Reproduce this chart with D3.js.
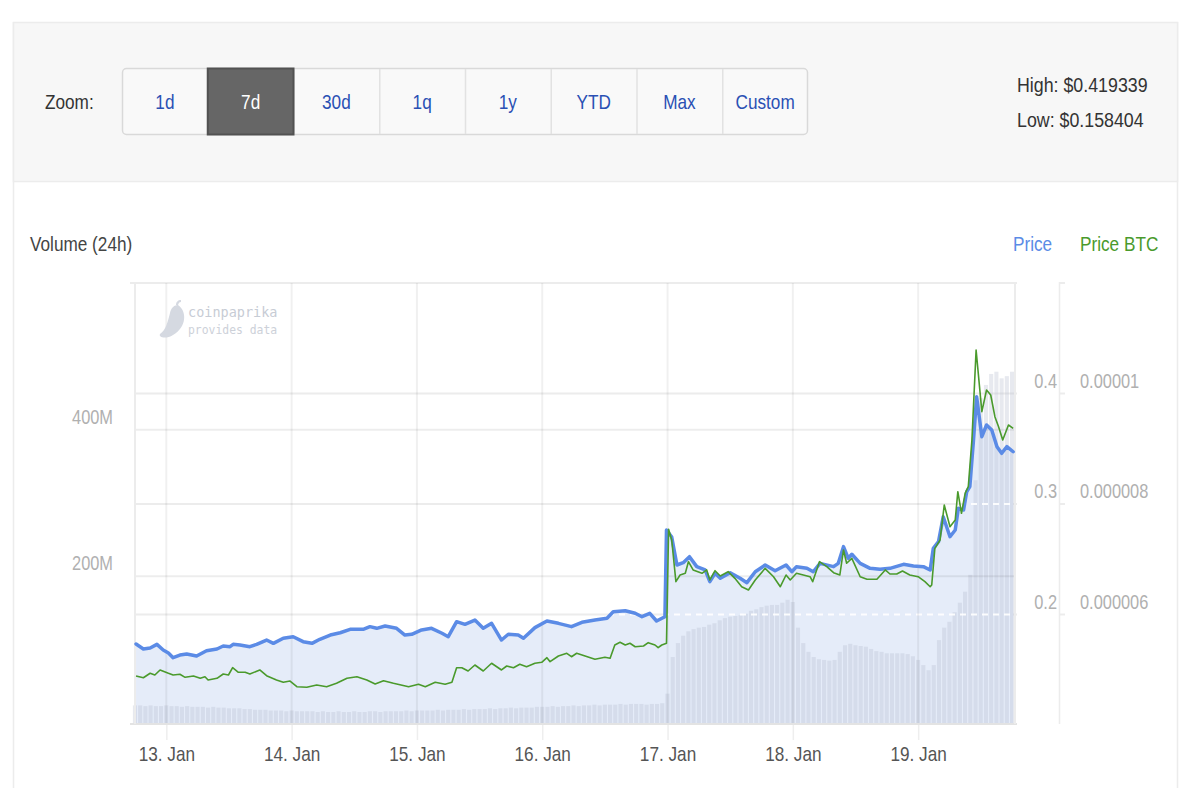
<!DOCTYPE html>
<html lang="en">
<head>
<meta charset="UTF-8">
<title>Price / Volume chart</title>
<script src="https://d3js.org/d3.v7.min.js"></script>
<style>
  body { margin: 0; background: #fff; }
  svg { display: block; font-family: "Liberation Sans", Arial, sans-serif; }
</style>
</head>
<body>
<svg id="chart" width="1200" height="788"></svg>
<script>
// ---- data ----
const zoomButtons = ["1d", "7d", "30d", "1q", "1y", "YTD", "Max", "Custom"];
const activeButton = "7d";
const highLowText = ["High: $0.419339", "Low: $0.158404"];
const seriesNames = ["Price", "Price BTC"];
const volumeTicks = [200e6, 400e6];
const priceTicks = [0.2, 0.3, 0.4];
const btcTicks = [0.000006, 0.000008, 0.00001];

// hours after 12 Jan 18:00 (UTC)
const startTime = Date.UTC(2020, 0, 12, 18);
const endHour = 168.55;

const priceHours = [0.2, 1.6, 2.9, 4.2, 5.4, 6.4, 7.3, 8.6, 9.9, 11.8, 13.7, 15.7, 16.9, 18.2, 18.8, 20.1,
  22.0, 23.3, 25.2, 26.5, 28.4, 30.3, 32.2, 33.9, 35.4, 37.4, 39.3, 41.2, 43.7, 45.0, 46.3, 47.9,
  50.1, 51.7, 53.0, 54.9, 56.8, 58.8, 60.0, 61.6, 63.2, 65.1, 66.7, 68.3, 70.2, 71.5, 73.4, 74.4,
  76.6, 78.9, 81.1, 83.6, 85.6, 88.1, 90.4, 91.6, 93.9, 95.8, 97.1, 98.6, 99.9, 101.5, 101.8, 102.8,
  103.8, 105.0, 106.2, 107.6, 109.2, 110.1, 111.1, 112.1, 114.0, 115.9, 117.2, 118.8, 120.7, 122.6,
  124.7, 125.8, 126.7, 128.7, 129.9, 131.2, 133.8, 134.7, 135.7, 136.6, 137.3, 138.9, 140.8, 142.7,
  144.6, 147.2, 149.1, 151.0, 152.3, 152.9, 153.9, 154.8, 156.1, 157.1, 157.7, 158.7, 159.3, 159.9,
  160.6, 161.2, 162.2, 163.1, 164.1, 165.1, 166.0, 167.0, 168.2];
const priceValues = [0.1733, 0.1688, 0.1697, 0.1730, 0.1679, 0.1652, 0.1609, 0.1633, 0.1643, 0.1624, 0.1672, 0.1688, 0.1715, 0.1709, 0.1730, 0.1724,
  0.1709, 0.1730, 0.1769, 0.1739, 0.1785, 0.1799, 0.1754, 0.1739, 0.1776, 0.1814, 0.1835, 0.1866, 0.1866, 0.1890, 0.1875, 0.1896,
  0.1875, 0.1814, 0.1821, 0.1860, 0.1875, 0.1830, 0.1799, 0.1935, 0.1911, 0.1950, 0.1875, 0.1920, 0.1769, 0.1821, 0.1814, 0.1785,
  0.1881, 0.1941, 0.1920, 0.1890, 0.1929, 0.1950, 0.1966, 0.2025, 0.2034, 0.2011, 0.1980, 0.2011, 0.1941, 0.1980, 0.2765, 0.2701,
  0.2448, 0.2469, 0.2523, 0.2433, 0.2403, 0.2297, 0.2373, 0.2328, 0.2378, 0.2328, 0.2288, 0.2387, 0.2448, 0.2396,
  0.2448, 0.2387, 0.2433, 0.2418, 0.2387, 0.2463, 0.2433, 0.2463, 0.2614, 0.2509, 0.2545, 0.2463, 0.2418, 0.2409,
  0.2418, 0.2454, 0.2439, 0.2433, 0.2403, 0.2599, 0.2659, 0.2885, 0.2704, 0.2765, 0.2961, 0.2946, 0.3111, 0.3157,
  0.3579, 0.3971, 0.3609, 0.3715, 0.3670, 0.3519, 0.3459, 0.3519, 0.3473];

const btcHours = [0.2, 1.6, 2.9, 3.8, 4.8, 6.4, 7.3, 8.6, 9.6, 11.2, 12.5, 13.4, 14.0, 15.7, 16.9, 17.9,
  18.7, 19.8, 21.1, 22.0, 23.9, 25.2, 27.1, 28.4, 29.7, 31.0, 32.9, 34.8, 36.7, 38.6, 40.6, 42.5,
  44.4, 46.0, 47.6, 49.5, 52.4, 54.3, 55.6, 57.5, 59.4, 60.7, 61.6, 62.6, 63.8, 65.1, 66.7, 68.3,
  70.2, 71.2, 72.5, 73.7, 75.0, 76.6, 77.9, 78.9, 79.5, 81.1, 82.7, 83.6, 84.6, 86.2, 88.1, 90.0,
  91.0, 91.9, 92.9, 93.9, 94.8, 95.8, 97.4, 98.3, 99.6, 100.2, 100.9, 101.8, 102.2, 102.8, 103.6, 104.4,
  105.4, 106.0, 106.9, 108.6, 109.5, 110.1, 111.1, 112.1, 113.6, 114.9, 116.2, 117.5, 118.8, 120.7,
  122.3, 123.6, 124.7, 125.5, 126.7, 128.0, 129.3, 129.8, 131.1, 132.5, 133.8, 135.0, 135.7, 136.3,
  137.3, 138.9, 140.2, 142.1, 143.7, 144.6, 145.9, 147.0, 148.4, 150.0, 151.3, 152.3, 152.6, 153.2,
  154.2, 155.0, 156.1, 157.1, 157.6, 158.3, 159.0, 159.6, 160.3, 161.1, 162.2, 163.1, 163.9, 164.7,
  165.4, 166.2, 167.3, 168.2];
const btcValues = [4.887e-6, 4.856e-6, 4.936e-6, 4.905e-6, 4.996e-6, 4.936e-6, 4.905e-6, 4.918e-6, 4.863e-6, 4.887e-6, 4.845e-6, 4.874e-6, 4.815e-6, 4.845e-6, 4.923e-6, 4.905e-6,
  5.037e-6, 4.954e-6, 4.954e-6, 4.923e-6, 4.996e-6, 4.892e-6, 4.815e-6, 4.773e-6, 4.796e-6, 4.693e-6, 4.682e-6, 4.724e-6, 4.693e-6, 4.755e-6, 4.845e-6, 4.874e-6,
  4.815e-6, 4.742e-6, 4.802e-6, 4.755e-6, 4.693e-6, 4.737e-6, 4.693e-6, 4.773e-6, 4.737e-6, 4.773e-6, 5.037e-6, 5.037e-6, 4.977e-6, 5.086e-6, 4.977e-6, 5.117e-6,
  4.996e-6, 5.068e-6, 5.037e-6, 5.099e-6, 5.055e-6, 5.117e-6, 5.135e-6, 5.218e-6, 5.146e-6, 5.249e-6, 5.298e-6, 5.236e-6, 5.298e-6, 5.249e-6, 5.189e-6, 5.225e-6,
  5.207e-6, 5.448e-6, 5.497e-6, 5.448e-6, 5.479e-6, 5.417e-6, 5.430e-6, 5.490e-6, 5.448e-6, 5.399e-6, 5.448e-6, 5.479e-6, 7.542e-6, 7.349e-6, 6.594e-6, 6.715e-6,
  6.746e-6, 6.956e-6, 6.806e-6, 6.746e-6, 6.806e-6, 6.625e-6, 6.793e-6, 6.697e-6, 6.775e-6, 6.655e-6, 6.503e-6, 6.444e-6, 6.625e-6, 6.836e-6,
  6.684e-6, 6.503e-6, 6.715e-6, 6.625e-6, 6.746e-6, 6.715e-6, 6.684e-6, 6.594e-6, 6.956e-6, 6.865e-6, 6.757e-6, 6.715e-6, 7.168e-6, 6.927e-6,
  7.017e-6, 6.684e-6, 6.637e-6, 6.637e-6, 6.806e-6, 6.733e-6, 6.733e-6, 6.787e-6, 6.715e-6, 6.684e-6, 6.594e-6, 6.503e-6, 6.534e-6, 7.198e-6,
  7.349e-6, 7.982e-6, 7.589e-6, 7.711e-6, 8.223e-6, 7.832e-6, 8.194e-6, 8.313e-6, 9.159e-6, 10.788e-6, 9.671e-6, 10.064e-6, 9.973e-6, 9.580e-6,
  9.399e-6, 9.159e-6, 9.430e-6, 9.370e-6];

// hourly 24h volume in USD millions, first bar at 12 Jan 18:00
const volumeMillions = [
  24, 24, 23, 24, 23, 23, 24, 23, 23, 22, 23, 22, 22, 22, 21, 22, 21, 21, 20, 20, 20,
  19, 19, 18, 18, 18, 17, 17, 17, 16, 17, 16, 16, 16, 16, 15, 16, 15, 15, 16, 15, 15, 16, 15, 15, 16, 16, 15, 16, 16, 16, 16, 17, 16, 17, 17,
  17, 17, 18, 17, 18, 18, 18, 19, 18, 19, 19, 19, 20, 19, 20, 20, 21, 20, 21, 21,
  21, 22, 22, 22, 23, 22, 23, 23, 24, 23, 24, 24, 25, 24, 25, 25, 25, 26, 25, 26, 26, 26, 25, 26, 26, 27,
  40, 90, 109, 119, 125, 128, 130, 131, 134, 136, 140, 143, 145, 146, 147, 149, 153, 155, 158, 160, 161, 161,
  164, 168, 165, 130, 109, 97, 90, 87, 86, 85, 86, 97, 106, 108, 106, 105, 104, 101, 98, 97, 95, 95, 95, 95,
  94, 91, 86, 79, 72, 79, 113, 130, 138, 151, 164, 179, 202, 331, 443, 461, 476, 479, 470, 473, 479];

// ---- chart ----
const svg = d3.select("#chart");
const squeeze = 0.86;
const hour = 3600e3;
const toDate = h => new Date(startTime + h * hour);

function label(x, y, text, o = {}) {
  return svg.append("text")
    .attr("transform", `translate(${x},${y}) scale(${o.sx || squeeze},1)`)
    .attr("text-anchor", o.anchor || "start")
    .attr("font-size", o.size || 20)
    .attr("font-family", o.family || null)
    .attr("fill", o.color || "#333")
    .text(text);
}

// card + toolbar panel
svg.append("line").attr("x1", 13.5).attr("x2", 13.5).attr("y1", 22).attr("y2", 788).attr("stroke", "#ececec").attr("stroke-width", 1.5);
svg.append("line").attr("x1", 1177.5).attr("x2", 1177.5).attr("y1", 22).attr("y2", 788).attr("stroke", "#ececec").attr("stroke-width", 1.5);
svg.append("rect").attr("x", 13.5).attr("y", 22.5).attr("width", 1164).attr("height", 159)
  .attr("fill", "#f7f7f7").attr("stroke", "#ececec").attr("stroke-width", 1.5);

label(45, 109, "Zoom:");

const bx = d3.scaleBand().domain(zoomButtons).range([122, 808]);
svg.append("rect").attr("x", 122.5).attr("y", 68.5).attr("width", 685).attr("height", 66).attr("rx", 4)
  .attr("fill", "#f9f9f9").attr("stroke", "#d9d9d9").attr("stroke-width", 1.5);
svg.selectAll(".sep").data(zoomButtons.slice(1)).enter().append("line")
  .attr("x1", d => bx(d) + 0.5).attr("x2", d => bx(d) + 0.5)
  .attr("y1", 69).attr("y2", 134).attr("stroke", "#e2e2e2").attr("stroke-width", 1.5);
svg.append("rect").attr("x", bx(activeButton)).attr("y", 68.5).attr("width", bx.bandwidth()).attr("height", 66)
  .attr("fill", "#666").attr("stroke", "#525252").attr("stroke-width", 2);
zoomButtons.forEach(b => label(bx(b) + bx.bandwidth() / 2, 109, b,
  { anchor: "middle", color: b === activeButton ? "#fff" : "#2a50b4" }));

label(1017, 92, highLowText[0], { sx: 0.89 });
label(1017, 127, highLowText[1], { sx: 0.89 });

// header
label(30, 251, "Volume (24h)", { color: "#444" });
label(1013, 251, seriesNames[0], { color: "#5b8be6" });
label(1080, 251, seriesNames[1], { color: "#4a9a2c" });

// scales
const x = d3.scaleUtc().domain([toDate(0), toDate(endHour)]).range([135, 1015]);
const volY = d3.scaleLinear().domain([0, 600e6]).range([723, 283]);
const priceY = d3.scaleLinear().domain([0.1, 0.5]).range([725, 283]);
const btcY = d3.scaleLinear().domain([4e-6, 12e-6]).range([725, 283]);

const priceData = priceHours.map((h, i) => ({ t: toDate(h), v: priceValues[i] }));
const btcData = btcHours.map((h, i) => ({ t: toDate(h), v: btcValues[i] }));
const volData = volumeMillions.map((v, i) => ({ t: toDate(i), v: v * 1e6 }));

// price grid (under the fill)
svg.selectAll(".pgrid").data([0.5, ...priceTicks]).enter().append("line")
  .attr("x1", 135).attr("x2", 1017)
  .attr("y1", d => priceY(d)).attr("y2", d => priceY(d))
  .attr("stroke", "#ececec").attr("stroke-width", 2);
svg.append("line").attr("x1", 130).attr("x2", 135).attr("y1", priceY(0.5)).attr("y2", priceY(0.5))
  .attr("stroke", "#ececec").attr("stroke-width", 2);

// price area
const area = d3.area().x(d => x(d.t)).y0(volY(0)).y1(d => priceY(d.v));
svg.append("clipPath").attr("id", "areaClip").append("path").attr("d", area(priceData));
svg.append("path").attr("d", area(priceData)).attr("fill", "#e5ecf9");

// volume bars
svg.selectAll(".vol").data(volData).enter().append("rect")
  .attr("x", d => x(d.t) - 2.1).attr("width", 4.1)
  .attr("y", d => volY(d.v)).attr("height", d => volY(0) - volY(d.v))
  .attr("fill", "rgba(180,188,206,0.32)");

// volume grid
svg.selectAll(".vgrid").data(volumeTicks).enter().append("line")
  .attr("x1", 135).attr("x2", 1015)
  .attr("y1", d => volY(d)).attr("y2", d => volY(d))
  .attr("stroke", "rgba(0,0,0,0.07)").attr("stroke-width", 2);

// dashed price grid over the fill
svg.append("g").attr("clip-path", "url(#areaClip)")
  .selectAll("line").data(priceTicks).enter().append("line")
  .attr("x1", 135).attr("x2", 1015)
  .attr("y1", d => priceY(d)).attr("y2", d => priceY(d))
  .attr("stroke", "rgba(255,255,255,0.9)").attr("stroke-width", 2).attr("stroke-dasharray", "6,5");

// day grid + x axis
const days = d3.utcDay.range(toDate(0), toDate(endHour));
svg.selectAll(".xgrid").data(days).enter().append("line")
  .attr("x1", d => x(d)).attr("x2", d => x(d))
  .attr("y1", 283).attr("y2", 723)
  .attr("stroke", "rgba(0,0,0,0.06)").attr("stroke-width", 2);

const xAxis = svg.append("g").attr("transform", "translate(0,723)")
  .call(d3.axisBottom(x).ticks(d3.utcDay.every(1)).tickFormat(d3.utcFormat("%-d. %b")).tickSize(17).tickPadding(7));
xAxis.select(".domain").remove();
xAxis.selectAll(".tick line").attr("stroke", "#eeeeee").attr("stroke-width", 1.5);
xAxis.selectAll(".tick text").attr("font-size", 20).attr("font-family", "Liberation Sans, Arial, sans-serif")
  .attr("fill", "#555").attr("transform", `scale(${squeeze},1)`);

// frame lines
svg.append("line").attr("x1", 130).attr("x2", 1017).attr("y1", 724).attr("y2", 724).attr("stroke", "#e3e3e3").attr("stroke-width", 2);
svg.append("line").attr("x1", 135).attr("x2", 135).attr("y1", 282).attr("y2", 724).attr("stroke", "#ececec").attr("stroke-width", 2);
svg.append("line").attr("x1", 1015).attr("x2", 1015).attr("y1", 282).attr("y2", 724).attr("stroke", "#ececec").attr("stroke-width", 2);
svg.append("line").attr("x1", 1059.5).attr("x2", 1059.5).attr("y1", 282).attr("y2", 724).attr("stroke", "#ececec").attr("stroke-width", 1.5);
svg.selectAll(".rtick").data([0.5, ...priceTicks]).enter().append("line")
  .attr("x1", 1059).attr("x2", 1065).attr("y1", d => priceY(d)).attr("y2", d => priceY(d))
  .attr("stroke", "#ececec").attr("stroke-width", 2);

// series lines
const line = y => d3.line().x(d => x(d.t)).y(d => y(d.v));
svg.append("path").datum(priceData).attr("d", line(priceY))
  .attr("fill", "none").attr("stroke", "#5b8be6").attr("stroke-width", 3.5)
  .attr("stroke-linejoin", "round").attr("stroke-linecap", "round");
svg.append("path").datum(btcData).attr("d", line(btcY))
  .attr("fill", "none").attr("stroke", "#4a9a2c").attr("stroke-width", 1.6)
  .attr("stroke-linejoin", "round");

// axis labels
const fmtVol = d3.format("~s");
volumeTicks.forEach(v => label(113, volY(v) - 6, fmtVol(v), { anchor: "end", color: "#b0b0b0", sx: 0.82 }));
priceTicks.forEach(v => label(1057, priceY(v) - 6, String(v), { anchor: "end", color: "#b0b0b0", sx: 0.82 }));
btcTicks.forEach(v => label(1080, btcY(v) - 6, String(v), { color: "#b0b0b0", sx: 0.82 }));

// watermark
svg.append("path")
  .attr("d", "M178,305 C187,311 187,327 173,335 C167,339 158,338 160,334 C166,330 168,321 170,313 C171,308 174,305 178,305 Z M176,305 C176,302 178,300 181,300 L181,302 C179,302 178,304 178,306 Z")
  .attr("fill", "#d5d9e1");
label(188, 317, "coinpaprika", { sx: 1, size: 13.5, family: "DejaVu Sans Mono, monospace", color: "#c7ccd5" });
label(188, 334, "provides data", { sx: 1, size: 11.4, family: "DejaVu Sans Mono, monospace", color: "#cdd1d9" });
</script>
</body>
</html>
